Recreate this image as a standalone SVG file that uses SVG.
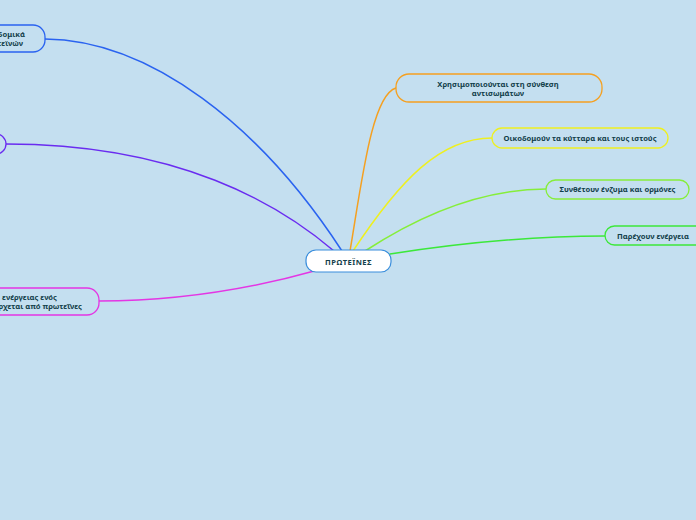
<svg xmlns="http://www.w3.org/2000/svg" width="696" height="520" viewBox="0 0 696 520">
<style>
.bg{fill:#c4dff0}
.n{fill:#c4dff0;stroke-width:1.3}
.t{font-family:"Noto Sans","Open Sans",sans-serif;font-weight:bold;font-size:7.6px;fill:#12404a}
.c{fill:none;stroke-width:1.5;stroke-linecap:round}
</style>
<rect class="bg" x="0" y="0" width="696" height="520"/>
<g id="connectors">
<path class="c" stroke="#2a63f0" d="M342,251 C260,125 150,40 45,39"/>
<path class="c" stroke="#6a2cf0" d="M334,251 C280,205 180,144 6,144"/>
<path class="c" stroke="#e436e4" d="M318,270 C240,292 170,301 99,301"/>
<path class="c" stroke="#f5a020" d="M350,251 C362,180 372,95 396,88"/>
<path class="c" stroke="#eef020" d="M353,251 C400,180 440,138 492,138"/>
<path class="c" stroke="#86ee3a" d="M365,251 C420,215 480,189 546,189"/>
<path class="c" stroke="#3ce83a" d="M390,254 C460,243 530,236 605,236"/>
</g>
<g id="n-center">
<rect x="306" y="250" width="85" height="22" rx="10" fill="#ffffff" stroke="#3a8edc" stroke-width="1.2"/>
<text class="t" x="348.5" y="264.8" text-anchor="middle" font-size="10" letter-spacing="0.5" fill="#0f2a55">ΠΡΩΤΕΪΝΕΣ</text>
</g>
<g id="n-blue">
<rect class="n" x="-60" y="25" width="105" height="27" rx="12" stroke="#2a63f0"/>
<text class="t" x="25" y="37" text-anchor="end">δομικά</text>
<text class="t" x="23" y="46" text-anchor="end">τεϊνών</text>
</g>
<g id="n-purple">
<rect class="n" x="-60" y="134" width="66" height="20" rx="10" stroke="#6a2cf0"/>
</g>
<g id="n-magenta">
<rect class="n" x="-60" y="288" width="159" height="27" rx="12" stroke="#e436e4"/>
<text class="t" x="57" y="300" text-anchor="end">ενέργειας ενός</text>
<text class="t" x="82" y="309" text-anchor="end">ρχεται από πρωτεΐνες</text>
</g>
<g id="n-orange">
<rect class="n" x="396" y="74" width="206" height="28" rx="13" stroke="#f5a020"/>
<text class="t" x="498" y="87" text-anchor="middle">Χρησιμοποιούνται στη σύνθεση</text>
<text class="t" x="498" y="96" text-anchor="middle">αντισωμάτων</text>
</g>
<g id="n-yellow">
<rect class="n" x="492" y="128" width="176" height="20" rx="10" stroke="#eef020"/>
<text class="t" x="580" y="141" text-anchor="middle">Οικοδομούν τα κύτταρα και τους ιστούς</text>
</g>
<g id="n-lightgreen">
<rect class="n" x="546" y="180" width="143" height="19" rx="9.5" stroke="#86ee3a"/>
<text class="t" x="617.5" y="192" text-anchor="middle">Συνθέτουν ένζυμα και ορμόνες</text>
</g>
<g id="n-green">
<rect class="n" x="605" y="226" width="110" height="19" rx="9.5" stroke="#3ce83a"/>
<text class="t" x="617" y="239">Παρέχουν ενέργεια</text>
</g>
</svg>
